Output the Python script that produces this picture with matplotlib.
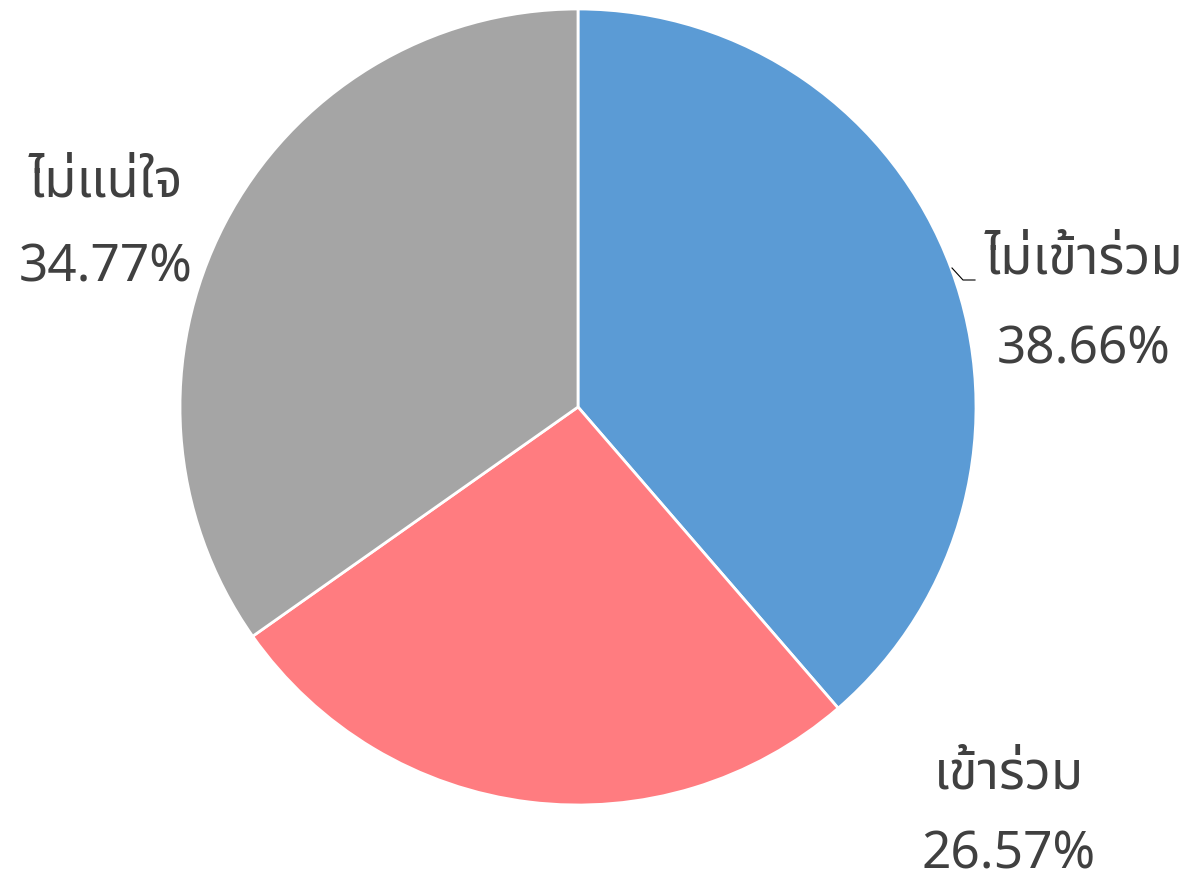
import matplotlib
matplotlib.use("Agg")
import matplotlib.pyplot as plt

# ข้อมูลแบบสำรวจ
labels = ["ไม่เข้าร่วม", "เข้าร่วม", "ไม่แน่ใจ"]
values = [38.66, 26.57, 34.77]
colors = ["#5B9BD5", "#FF7C80", "#A5A5A5"]

plt.rcParams['font.family'] = ['Noto Sans Thai', 'Noto Sans Thai Looped', 'Loma',
                               'Tlwg Typo', 'Garuda', 'DejaVu Sans']

W, H = 1194, 880
fig = plt.figure(figsize=(W / 100, H / 100), dpi=100)
ax = fig.add_axes([0, 0, 1, 1])

cx, cy, r = 578, H - 407, 398
ax.pie(values, colors=colors, startangle=90, counterclock=False,
       center=(cx, cy), radius=r, frame=True,
       wedgeprops=dict(edgecolor='white', linewidth=2))
ax.set_xlim(0, W)
ax.set_ylim(0, H)
ax.set_aspect('equal')
ax.axis('off')

# ตำแหน่งป้ายกำกับ (พิกเซล, วัดจากด้านบน)
label_pos = [(1084, 260, 350), (1009, 775, 855), (106, 183, 268)]
txt_color = '#404040'
for name, v, (x, y1, y2) in zip(labels, values, label_pos):
    ax.text(x, H - y1, name, ha='center', va='center', fontsize=38, color=txt_color)
    ax.text(x, H - y2, f"{v:.2f}%", ha='center', va='center', fontsize=37, color=txt_color)

# เส้นชี้ป้าย ไม่เข้าร่วม
ax.plot([952, 963, 975], [H - 268, H - 280, H - 280], color='black', lw=0.8)

fig.savefig("out.png", dpi=100)
